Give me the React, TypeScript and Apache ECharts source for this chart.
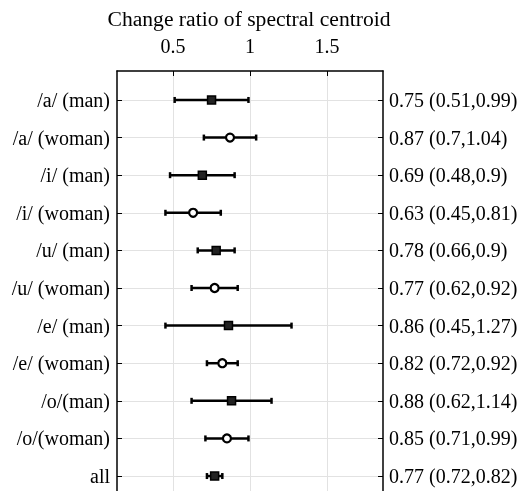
import React, { useEffect, useRef } from "react";
import * as echarts from "echarts";

const categories = ["/a/ (man)", "/a/ (woman)", "/i/ (man)", "/i/ (woman)", "/u/ (man)", "/u/ (woman)", "/e/ (man)", "/e/ (woman)", "/o/(man)", "/o/(woman)", "all"];
const means = [0.75, 0.87, 0.69, 0.63, 0.78, 0.77, 0.86, 0.82, 0.88, 0.85, 0.77];
const lows = [0.51, 0.7, 0.48, 0.45, 0.66, 0.62, 0.45, 0.72, 0.62, 0.71, 0.72];
const highs = [0.99, 1.04, 0.9, 0.81, 0.9, 0.92, 1.27, 0.92, 1.14, 0.99, 0.82];
const markers = ["square", "circle", "square", "circle", "square", "circle", "square", "circle", "square", "circle", "square"];
const rightLabels = ["0.75 (0.51,0.99)", "0.87 (0.7,1.04)", "0.69 (0.48,0.9)", "0.63 (0.45,0.81)", "0.78 (0.66,0.9)", "0.77 (0.62,0.92)", "0.86 (0.45,1.27)", "0.82 (0.72,0.92)", "0.88 (0.62,1.14)", "0.85 (0.71,0.99)", "0.77 (0.72,0.82)"];
const xTicks = [0.5, 1, 1.5];
const rowTicks = categories.map((_, i) => i + 1);
const xTitle = "Change ratio of spectral centroid";

const FONT = "Liberation Serif";

export default function App() {
  const ref = useRef<HTMLDivElement>(null);
  useEffect(() => {
    if (!ref.current) return;
    const chart = echarts.init(ref.current, null, { renderer: "svg" });
    const yCommon = {
      type: "value",
      inverse: true,
      min: 0.23,
      max: 11.77,
      axisLine: { show: true, lineStyle: { color: "#000", width: 1.5 } },
      axisTick: { show: true, inside: true, length: 5, customValues: rowTicks, lineStyle: { color: "#000", width: 1 } },
    };
    chart.setOption({
      animation: false,
      graphic: [
        {
          type: "text",
          x: 249,
          y: 19,
          style: { text: xTitle, fontFamily: FONT, fontSize: 21.6, fill: "#000", textAlign: "center", textVerticalAlign: "middle" },
        },
      ],
      grid: { left: 117, right: 135, top: 71, bottom: -14, containLabel: false, outerBoundsMode: "none" },
      xAxis: {
        type: "value",
        position: "top",
        min: 0.135,
        max: 1.865,
        axisLine: { show: true, onZero: false, lineStyle: { color: "#000", width: 1.5 } },
        axisTick: { show: true, inside: true, length: 5, customValues: xTicks, lineStyle: { color: "#000" } },
        axisLabel: { customValues: xTicks, fontFamily: FONT, fontSize: 20, color: "#000", margin: 15, formatter: (v: number) => String(v) },
        splitLine: { show: true, lineStyle: { color: "#e2e2e2", width: 1 } },
      },
      yAxis: [
        {
          ...yCommon,
          position: "left",
          axisLabel: { customValues: rowTicks, fontFamily: FONT, fontSize: 20, color: "#000", margin: 7, formatter: (v: number) => categories[Math.round(v) - 1] ?? "" },
          splitLine: { show: true, lineStyle: { color: "#e2e2e2", width: 1 } },
        },
        {
          ...yCommon,
          position: "right",
          axisLabel: { customValues: rowTicks, fontFamily: FONT, fontSize: 20, color: "#000", margin: 6, formatter: (v: number) => rightLabels[Math.round(v) - 1] ?? "" },
          splitLine: { show: false },
        },
      ],
      series: [
        {
          type: "custom",
          xAxisIndex: 0,
          yAxisIndex: 0,
          encode: { x: [0, 1, 2], y: 3 },
          data: means.map((m, i) => [m, lows[i], highs[i], i + 1]),
          renderItem: (params: any, api: any) => {
            const y = api.value(3);
            const lo = api.coord([api.value(1), y]);
            const hi = api.coord([api.value(2), y]);
            const m = api.coord([api.value(0), y]);
            const cap = 3;
            const ls = { stroke: "#000", lineWidth: 2.5 };
            const children: any[] = [
              { type: "line", shape: { x1: lo[0], y1: lo[1], x2: hi[0], y2: hi[1] }, style: ls },
              { type: "line", shape: { x1: lo[0], y1: lo[1] - cap, x2: lo[0], y2: lo[1] + cap }, style: { stroke: "#000", lineWidth: 2.5 } },
              { type: "line", shape: { x1: hi[0], y1: hi[1] - cap, x2: hi[0], y2: hi[1] + cap }, style: { stroke: "#000", lineWidth: 2.5 } },
            ];
            if (markers[params.dataIndex] === "square") {
              children.push({ type: "rect", shape: { x: m[0] - 4, y: m[1] - 4, width: 8, height: 8 }, style: { fill: "#222", stroke: "#000", lineWidth: 1.5 } });
            } else {
              children.push({ type: "circle", shape: { cx: m[0], cy: m[1], r: 4 }, style: { fill: "#fff", stroke: "#000", lineWidth: 2.2 } });
            }
            return { type: "group", children };
          },
        },
      ],
    });
    return () => chart.dispose();
  }, []);
  return <div ref={ref} style={{ position: "fixed", left: 0, top: 0, width: 518, height: 491 }} />;
}
